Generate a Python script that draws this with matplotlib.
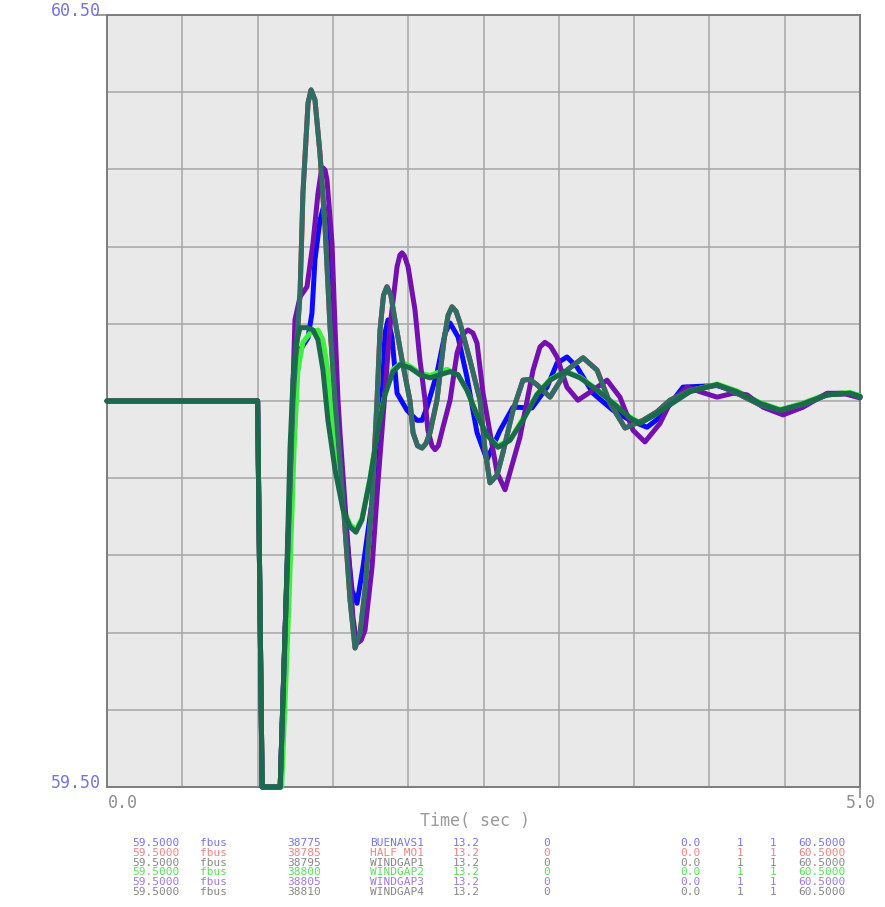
import numpy as np
import matplotlib.pyplot as plt

# bus frequency (Hz) vs time (s) after the disturbance at t = 1.0 s
t_38775 = [0.0, 1.0, 1.03, 1.15, 1.189, 1.222, 1.242, 1.282, 1.335, 1.361, 1.381, 1.414, 1.441, 1.467,
           1.50, 1.534, 1.58, 1.627, 1.66, 1.70, 1.746, 1.793, 1.826, 1.846, 1.866, 1.892, 1.926, 1.992,
           2.058, 2.092, 2.125, 2.191, 2.245, 2.278, 2.331, 2.39, 2.457, 2.523, 2.61, 2.696, 2.822,
           2.922, 2.988, 3.054, 3.121, 3.227, 3.36, 3.473, 3.586, 3.672, 3.825, 4.051, 4.183, 4.336,
           4.469, 4.602, 4.781, 4.934, 5.0]
f_38775 = [60.0, 60.0, 59.5, 59.5, 59.742, 59.937, 60.001, 60.066, 60.082, 60.114, 60.183, 60.234,
           60.254, 60.209, 60.092, 59.975, 59.846, 59.755, 59.738, 59.785, 59.850, 59.915, 60.001,
           60.088, 60.105, 60.083, 60.010, 59.988, 59.975, 59.975, 59.992, 60.036, 60.088, 60.101,
           60.083, 60.031, 59.959, 59.924, 59.962, 59.992, 59.991, 60.018, 60.049, 60.057, 60.044,
           60.010, 59.988, 59.975, 59.966, 59.979, 60.018, 60.020, 60.012, 59.997, 59.988, 59.995,
           60.008, 60.010, 60.006]

t_38795 = [0.0, 1.0, 1.03, 1.15, 1.19, 1.235, 1.282, 1.301, 1.335, 1.355, 1.381, 1.414, 1.448, 1.481,
           1.514, 1.567, 1.614, 1.647, 1.68, 1.713, 1.76, 1.793, 1.813, 1.836, 1.859, 1.885, 1.912,
           1.959, 2.012, 2.032, 2.062, 2.092, 2.118, 2.145, 2.191, 2.238, 2.265, 2.291, 2.318, 2.344,
           2.41, 2.477, 2.51, 2.543, 2.59, 2.629, 2.696, 2.762, 2.808, 2.855, 2.942, 3.054, 3.161,
           3.254, 3.34, 3.44, 3.559, 3.652, 3.738, 3.871, 4.051, 4.183, 4.336, 4.469, 4.648, 4.781,
           4.934, 5.0]
f_38795 = [60.0, 60.0, 59.5, 59.5, 59.742, 60.001, 60.14, 60.269, 60.386, 60.403, 60.39, 60.321,
           60.225, 60.096, 60.001, 59.872, 59.742, 59.68, 59.699, 59.755, 59.872, 60.001, 60.092,
           60.137, 60.148, 60.137, 60.105, 60.053, 60.0, 59.959, 59.942, 59.939, 59.945, 59.959,
           60.001, 60.079, 60.111, 60.122, 60.116, 60.101, 60.053, 60.001, 59.937, 59.894, 59.904,
           59.933, 59.988, 60.027, 60.028, 60.021, 60.005, 60.040, 60.056, 60.040, 59.997, 59.965,
           59.975, 59.986, 60.001, 60.014, 60.021, 60.010, 59.995, 59.988, 59.997, 60.008, 60.010,
           60.005]

# 38785 runs underneath 38795
t_38785 = t_38795
f_38785 = f_38795

t_38800 = [0.0, 1.0, 1.03, 1.16, 1.209, 1.242, 1.268, 1.301, 1.348, 1.401, 1.434, 1.467, 1.514,
           1.567, 1.614, 1.653, 1.693, 1.746, 1.799, 1.846, 1.899, 1.959, 2.012, 2.078, 2.145, 2.211,
           2.258, 2.331, 2.39, 2.457, 2.523, 2.596, 2.676, 2.762, 2.855, 2.942, 3.041, 3.141, 3.254,
           3.373, 3.473, 3.539, 3.639, 3.738, 3.871, 4.051, 4.183, 4.336, 4.469, 4.602, 4.781, 4.934,
           5.0]
f_38800 = [60.0, 60.0, 59.5, 59.5, 59.742, 59.937, 60.040, 60.076, 60.088, 60.092, 60.079, 60.038,
           59.920, 59.862, 59.840, 59.833, 59.848, 59.900, 59.964, 60.010, 60.041, 60.050, 60.045,
           60.036, 60.033, 60.038, 60.041, 60.034, 60.014, 59.982, 59.956, 59.942, 59.950, 59.977,
           60.009, 60.028, 60.039, 60.031, 60.015, 59.996, 59.979, 59.972, 59.983, 59.996, 60.013,
           60.022, 60.013, 59.998, 59.989, 59.996, 60.009, 60.011, 60.007]

t_38805 = [0.0, 1.0, 1.03, 1.15, 1.189, 1.222, 1.248, 1.282, 1.328, 1.368, 1.401, 1.421, 1.434, 1.448,
           1.461, 1.494, 1.514, 1.534, 1.547, 1.594, 1.633, 1.653, 1.667, 1.687, 1.713, 1.76, 1.799,
           1.833, 1.879, 1.926, 1.945, 1.959, 1.975, 1.999, 2.045, 2.078, 2.112, 2.131, 2.158, 2.178,
           2.2, 2.231, 2.278, 2.324, 2.365, 2.397, 2.43, 2.457, 2.497, 2.543, 2.59, 2.643, 2.742,
           2.829, 2.875, 2.908, 2.945, 2.988, 3.054, 3.127, 3.227, 3.32, 3.406, 3.493, 3.572, 3.672,
           3.738, 3.851, 3.938, 4.051, 4.157, 4.25, 4.356, 4.489, 4.622, 4.781, 4.887, 5.0]
f_38805 = [60.0, 60.0, 59.5, 59.5, 59.742, 59.937, 60.105, 60.135, 60.148, 60.205, 60.269, 60.295,
           60.302, 60.299, 60.286, 60.205, 60.096, 60.001, 59.959, 59.829, 59.720, 59.692, 59.687,
           59.690, 59.703, 59.785, 59.894, 59.979, 60.096, 60.174, 60.189, 60.192, 60.188, 60.174,
           60.118, 60.053, 60.001, 59.962, 59.942, 59.937, 59.942, 59.966, 60.001, 60.062, 60.087,
           60.092, 60.088, 60.075, 60.010, 59.959, 59.907, 59.885, 59.953, 60.040, 60.070, 60.076,
           60.071, 60.057, 60.018, 60.001, 60.014, 60.027, 60.005, 59.962, 59.947, 59.971, 59.997,
           60.018, 60.012, 60.005, 60.010, 60.008, 59.992, 59.982, 59.992, 60.010, 60.010, 60.004]

t_38810 = [0.0, 1.0, 1.03, 1.15, 1.189, 1.215, 1.235, 1.255, 1.282, 1.328, 1.368, 1.401, 1.434, 1.467,
           1.514, 1.567, 1.614, 1.653, 1.693, 1.746, 1.799, 1.846, 1.899, 1.946, 2.012, 2.078, 2.145,
           2.211, 2.278, 2.331, 2.39, 2.457, 2.523, 2.596, 2.676, 2.762, 2.855, 2.942, 3.041, 3.141,
           3.254, 3.373, 3.473, 3.539, 3.639, 3.738, 3.871, 4.051, 4.183, 4.336, 4.469, 4.602, 4.781,
           4.934, 5.0]
f_38810 = [60.0, 60.0, 59.5, 59.5, 59.742, 59.937, 60.027, 60.073, 60.095, 60.095, 60.092, 60.079,
           60.040, 59.975, 59.911, 59.859, 59.837, 59.830, 59.846, 59.898, 59.962, 60.008, 60.038,
           60.047, 60.043, 60.034, 60.030, 60.034, 60.038, 60.034, 60.014, 59.982, 59.956, 59.940,
           59.949, 59.975, 60.008, 60.027, 60.038, 60.030, 60.014, 59.995, 59.978, 59.971, 59.982,
           59.995, 60.012, 60.021, 60.012, 59.997, 59.988, 59.995, 60.008, 60.010, 60.006]

# channel table shown under the plot
buses = ['38775', '38785', '38795', '38800', '38805', '38810']
names = ['BUENAVS1', 'HALF MO1', 'WINDGAP1', 'WINDGAP2', 'WINDGAP3', 'WINDGAP4']
kv = ['13.2'] * 6
ymins = ['59.5000'] * 6
ymaxs = ['60.5000'] * 6
line_colors = ['#0a0aff', '#e83030', '#2f6d66', '#3cf03c', '#7410b0', '#1b6a4c']
text_colors = ['#7676ea', '#f08484', '#888888', '#5ae05a', '#a07ada', '#888888']

W, H = 885, 907
fig = plt.figure(figsize=(W / 100, H / 100), dpi=100)
ax = fig.add_axes([107 / W, 1 - 787 / H, (860 - 107) / W, (787 - 15) / H])
ax.set_facecolor('#e9e9e9')
ax.set_xlim(0, 5)
ax.set_ylim(59.5, 60.5)

ax.set_xticks(np.arange(0.5, 5.0, 0.5), minor=True)
ax.set_yticks(np.arange(59.6, 60.45, 0.1), minor=True)
ax.grid(which='minor', color='#a6a6a6', lw=1.1)
ax.set_xticks([5.0])
ax.set_yticks([60.5])
ax.set_xticklabels([''])
ax.set_yticklabels([''])
ax.tick_params(which='minor', length=0)
ax.tick_params(which='major', length=8, width=1.2, color='#8a8a8a')
for s in ax.spines.values():
    s.set_color('#7c7c7c')
    s.set_linewidth(1.4)

series = [(t_38775, f_38775, 0), (t_38785, f_38785, 1), (t_38800, f_38800, 3),
          (t_38805, f_38805, 4), (t_38795, f_38795, 2), (t_38810, f_38810, 5)]
for t, f, i in series:
    ax.plot(t, f, color=line_colors[i], lw=3.6, solid_joinstyle='round',
            solid_capstyle='round', clip_on=False, zorder=3)

mono = 'DejaVu Sans Mono'
fig.text(101 / W, 1 - 16 / H, '60.50', ha='right', va='baseline', color='#7474dc',
         family=mono, size=12)
fig.text(101 / W, 1 - 788 / H, '59.50', ha='right', va='baseline', color='#7474dc',
         family=mono, size=12)
fig.text(108 / W, 1 - 794 / H, '0.0', ha='left', va='top', color='#8e8e8e', family=mono, size=12)
fig.text(861 / W, 1 - 794 / H, '5.0', ha='center', va='top', color='#8e8e8e', family=mono, size=12)
fig.text(420 / W, 1 - 812 / H, 'Time( sec )', ha='left', va='top', color='#9a9a9a',
         family=mono, size=12)

row_y = [843, 853, 863, 872, 882, 892]
for k in range(6):
    cells = [(132, ymins[k]), (200, 'fbus'), (287, buses[k]), (370, names[k]), (453, kv[k]),
             (543, '0'), (680, '0.0'), (737, '1'), (770, '1'), (798, ymaxs[k])]
    for x, s in cells:
        fig.text(x / W, 1 - row_y[k] / H, s, ha='left', va='center', color=text_colors[k],
                 family=mono, size=8)

fig.savefig('out.png', dpi=100, facecolor='white')
